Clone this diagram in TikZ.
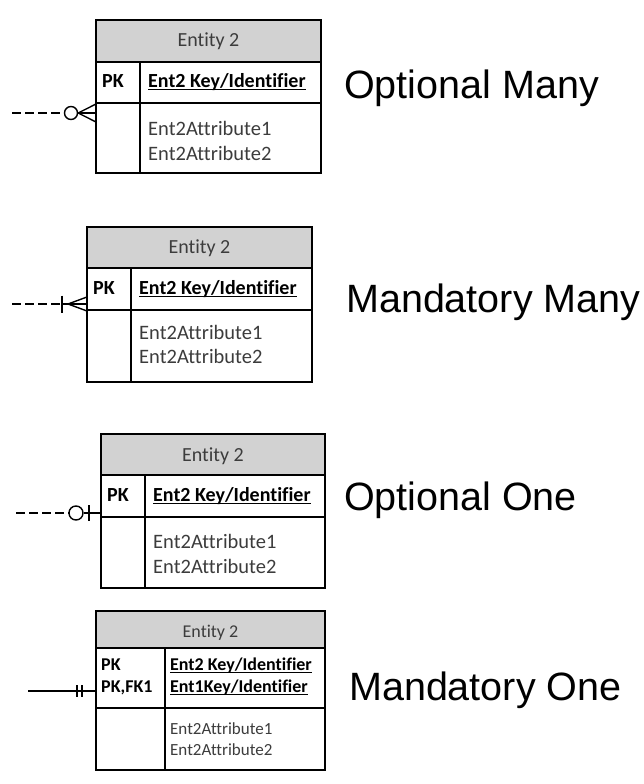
\documentclass[tikz,border=0pt]{standalone}
\usepackage{fontspec}
\setmainfont{Carlito}[Ligatures=NoCommon]
\newfontfamily\arialf{Liberation Sans}
\definecolor{hdrgray}{RGB}{210,210,210}
\definecolor{txtgray}{RGB}{60,60,60}
\begin{document}
\begin{tikzpicture}[x=1pt,y=-1pt]
\tikzset{
 ebox/.style={draw=black, line width=1.2pt, inner sep=0pt, outer sep=0pt, anchor=north west},
 hdr/.style={ebox, fill=hdrgray},
 ttl/.style={inner sep=0pt, anchor=base, text=txtgray, font=\fontsize{20}{22}\selectfont},
 pk/.style={inner sep=0pt, anchor=base west, font=\bfseries\fontsize{20}{22}\selectfont},
 pks/.style={inner sep=0pt, anchor=base west, font=\bfseries\fontsize{18}{20}\selectfont},
 attr/.style={inner sep=0pt, anchor=base west, text=txtgray, font=\fontsize{20.5}{22}\selectfont},
 attrs/.style={inner sep=0pt, anchor=base west, text=txtgray, font=\fontsize{17}{20}\selectfont},
 ttls/.style={inner sep=0pt, anchor=base, text=txtgray, font=\fontsize{18}{20}\selectfont},
 lbl/.style={inner sep=0pt, anchor=base west, font=\arialf\fontsize{39.5}{44}\selectfont},
 inl/.style={line width=1.2pt},
 uline/.style={line width=1pt},
 conn/.style={line width=1.4pt},
 dconn/.style={conn, dash pattern=on 9pt off 4pt},
 ring/.style={circle, draw, line width=1.4pt, minimum size=13pt, inner sep=0pt, fill=white},
}
\useasboundingbox (0,0) rectangle (644,784);

% ---------- Box 1 : Optional Many ----------
\node[ebox, minimum width=225pt, minimum height=153pt] (b1) at (96,20) {};
\node[hdr, minimum width=225pt, minimum height=42pt] (b1h) at (96,20) {};
\node[ttl] (b1t) at (208.5,47) {Entity 2};
\draw[inl] (96,103) -- (321,103);
\draw[inl] (140,62) -- (140,173);
\node[pk] (b1p) at (102,87) {PK};
\node[pk] (b1k) at (148,87) {Ent2 Key/Identifier};
\draw[uline] ([yshift=-2.3pt]b1k.base west) -- ([yshift=-2.3pt]b1k.base east);
\node[attr] (b1a) at (148,135.5) {Ent2Attribute1};
\node[attr] (b1b) at (148,160) {Ent2Attribute2};
\node[lbl] (l1) at (344,99) {Optional Many};
\coordinate (c1s) at (12,113);
\node[ring] (c1o) at (71,113) {};
\draw[dconn] (c1s) -- (c1o.west);
\draw[conn] (c1o.east) -- (b1.west |- 0,104);
\draw[conn] (c1o.east) -- (b1.west |- c1s);
\draw[conn] (c1o.east) -- (b1.west |- 0,122);

% ---------- Box 2 : Mandatory Many ----------
\node[ebox, minimum width=225pt, minimum height=155pt] (b2) at (87,227) {};
\node[hdr, minimum width=225pt, minimum height=41pt] (b2h) at (87,227) {};
\node[ttl] (b2t) at (199.5,253) {Entity 2};
\draw[inl] (87,310) -- (312,310);
\draw[inl] (131,268) -- (131,382);
\node[pk] (b2p) at (93,294) {PK};
\node[pk] (b2k) at (139,294) {Ent2 Key/Identifier};
\draw[uline] ([yshift=-2.3pt]b2k.base west) -- ([yshift=-2.3pt]b2k.base east);
\node[attr] (b2a) at (139,339) {Ent2Attribute1};
\node[attr] (b2b) at (139,363) {Ent2Attribute2};
\node[lbl] (l2) at (346,312) {Mandatory Many};
\coordinate (c2s) at (12,304);
\coordinate (c2b) at (62,304);
\coordinate (c2a) at (68,304);
\draw[dconn] (c2s) -- (c2b);
\draw[conn] (62,295.5) -- (62,312.5);
\draw[conn] (c2b) -- (c2a);
\draw[conn] (c2a) -- (b2.west |- 0,297);
\draw[conn] (c2a) -- (b2.west |- c2s);
\draw[conn] (c2a) -- (b2.west |- 0,311);

% ---------- Box 3 : Optional One ----------
\node[ebox, minimum width=224pt, minimum height=154pt] (b3) at (101,434) {};
\node[hdr, minimum width=224pt, minimum height=41pt] (b3h) at (101,434) {};
\node[ttl] (b3t) at (213,461) {Entity 2};
\draw[inl] (101,517) -- (325,517);
\draw[inl] (145,475) -- (145,588);
\node[pk] (b3p) at (107,501) {PK};
\node[pk] (b3k) at (153,501) {Ent2 Key/Identifier};
\draw[uline] ([yshift=-2.3pt]b3k.base west) -- ([yshift=-2.3pt]b3k.base east);
\node[attr] (b3a) at (153,548) {Ent2Attribute1};
\node[attr] (b3b) at (153,573) {Ent2Attribute2};
\node[lbl] (l3) at (344,510) {Optional One};
\coordinate (c3s) at (16,513);
\node[ring, minimum size=14pt] (c3o) at (76,513) {};
\draw[dconn] (c3s) -- (c3o.west);
\draw[conn] (c3o.east) -- (b3.west |- c3s);
\draw[conn] (89,505) -- (89,521);

% ---------- Box 4 : Mandatory One ----------
\node[ebox, minimum width=229pt, minimum height=159pt] (b4) at (96,611) {};
\node[hdr, minimum width=229pt, minimum height=37pt] (b4h) at (96,611) {};
\node[ttls] (b4t) at (210.5,637) {Entity 2};
\draw[inl] (96,708) -- (325,708);
\draw[inl] (165,648) -- (165,770);
\node[pks] (b4p) at (101,670) {PK};
\node[pks] (b4q) at (101,692) {PK,FK1};
\node[pks] (b4k) at (170,670) {Ent2 Key/Identifier};
\node[pks] (b4l) at (170,692) {Ent1Key/Identifier};
\draw[uline] ([yshift=-2.3pt]b4k.base west) -- ([yshift=-2.3pt]b4k.base east);
\draw[uline] ([yshift=-2.3pt]b4l.base west) -- ([yshift=-2.3pt]b4l.base east);
\node[attrs] (b4a) at (170,734) {Ent2Attribute1};
\node[attrs] (b4b) at (170,755) {Ent2Attribute2};
\node[lbl] (l4) at (349,700) {Mandatory One};
\coordinate (c4s) at (28,691);
\draw[conn] (c4s) -- (b4.west |- c4s);
\draw[conn] (77,685) -- (77,697);
\draw[conn] (82,685) -- (82,697);
\end{tikzpicture}
\end{document}
